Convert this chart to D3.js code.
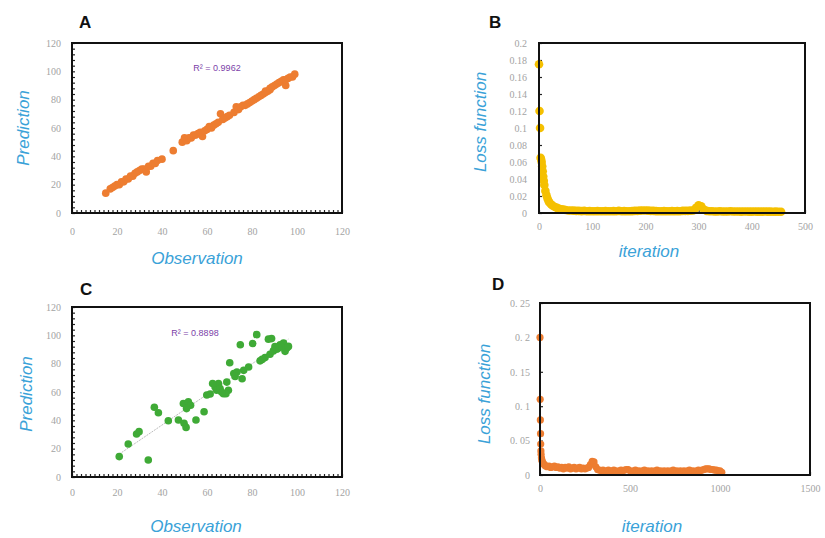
<!DOCTYPE html>
<html>
<head>
<meta charset="utf-8">
<script src="https://cdn.jsdelivr.net/npm/d3@7"></script>
<style>
  body { margin: 0; background: #fff; }
  svg { display: block; }
</style>
</head>
<body>
<svg id="chart" width="825" height="538"></svg>
<script>
// ---- data ----
var aObs  = [15,17,18,19,20,21,22,23,24,25,26,27,28,29,30,31,32,33,34,35,36,37,38,40,45,49,50,51,52,53,54,55,56,57,58,59,60,61,62,63,64,65,66,67,68,69,70,72,73,74,75,76,77,78,79,80,81,82,83,84,85,86,86,87,88,88,89,90,91,92,93,94,95,95,96,97,98,99];
var aPred = [14,17,18,19,20,20,22,22,24,24,26,26,28,29,30,31,31,29,33,33,35,35,37,38,44,50,53,51,53,53,55,55,56,57,54,58,59,61,60,62,63,64,70,66,67,68,69,71,75,73,75,76,76,77,78,79,80,81,82,83,84,86,85,86,87,88,89,90,91,92,93,94,90,94,95,96,96,98];

var cObs  = [21,25,28.7,29.8,33.9,36.6,38.4,42.8,47.3,49.8,50.7,49.5,51.7,52.7,50.9,55.1,58.7,59.9,61.4,63.6,65.1,64.3,65.8,67.3,68.8,69.5,68.4,70.1,71.9,73.3,75.6,76.3,78.5,74.8,80.3,82.1,83.6,85.8,88,89.5,91,87.3,88.7,92.5,94,95.5,94.7,93.2,96.2,91.8,62.5,66.5,72.5,84.5,90.2];
var cPred = [14.4,23.3,30.4,32,12,49.2,45.4,39.7,40.2,37.9,35,51.9,53,50.6,48.3,40.2,46.1,57.9,58.6,63.5,65.9,61.2,62.4,58.8,67,61.2,58.8,80.6,73,74.1,69.4,75.3,77.6,93.4,94.2,100.5,82,84.3,86.7,89,90.2,97.3,97.7,93.4,94.6,91,88.7,91.8,92.2,91,66,60,71,83,92];

var bIter = [0,1,2,3,4,5,6,7,8,9,10,12,14,16,18,20,23,26,30,34,38,42,46,50,55,60,65,70,75,80,85,90,95,100,105,110,115,120,125,130,135,140,145,150,155,160,165,170,175,180,185,190,195,200,205,210,215,220,225,230,235,240,245,250,255,260,265,270,275,280,285,290,295,300,305,310,315,320,325,330,335,340,345,350,355,360,365,370,375,380,385,390,395,400,405,410,415,420,425,430,435,440,445,450,455];
var bLoss = [0.175,0.12,0.1,0.065,0.063,0.06,0.055,0.049,0.043,0.038,0.033,0.026,0.021,0.017,0.014,0.012,0.010,0.0085,0.007,0.006,0.005,0.0045,0.004,0.0035,0.003,0.003,0.0028,0.0025,0.0025,0.0022,0.0025,0.002,0.0022,0.002,0.002,0.0022,0.002,0.002,0.0022,0.002,0.002,0.0022,0.002,0.0025,0.002,0.0022,0.002,0.002,0.0022,0.0025,0.0025,0.0028,0.003,0.003,0.0028,0.0025,0.0025,0.0022,0.002,0.002,0.0022,0.002,0.002,0.0022,0.002,0.0022,0.002,0.0025,0.0025,0.0025,0.0028,0.003,0.006,0.009,0.008,0.004,0.0025,0.002,0.002,0.0018,0.0018,0.002,0.0018,0.0018,0.0018,0.002,0.0018,0.0018,0.0018,0.0016,0.0018,0.0018,0.0016,0.0016,0.0018,0.0016,0.0016,0.0016,0.0018,0.0016,0.0016,0.0015,0.0016,0.0015,0.0015];

var dIter = [0,1,2,3,4,5,6,8,10,12,15,20,25,30,40,50,60,70,80,90,100,110,120,130,140,150,160,170,180,190,200,210,220,230,240,250,260,270,280,290,300,310,320,330,340,350,360,370,380,390,400,410,420,430,440,450,460,470,480,490,500,510,520,530,540,550,560,570,580,590,600,610,620,630,640,650,660,670,680,690,700,710,720,730,740,750,760,770,780,790,800,810,820,830,840,850,860,870,880,890,900,910,920,930,940,950,960,970,980,990,1000,1010];
var dLoss = [0.2,0.11,0.08,0.06,0.045,0.035,0.03,0.025,0.022,0.02,0.018,0.016,0.015,0.013,0.012,0.013,0.011,0.012,0.013,0.011,0.012,0.01,0.011,0.009,0.011,0.01,0.012,0.009,0.01,0.011,0.009,0.01,0.011,0.009,0.01,0.009,0.01,0.011,0.015,0.02,0.019,0.012,0.008,0.007,0.006,0.007,0.005,0.006,0.007,0.005,0.006,0.007,0.006,0.005,0.006,0.007,0.006,0.007,0.008,0.008,0.006,0.005,0.006,0.007,0.005,0.006,0.005,0.006,0.007,0.005,0.006,0.005,0.006,0.005,0.006,0.007,0.005,0.006,0.005,0.006,0.005,0.006,0.005,0.006,0.007,0.005,0.006,0.005,0.006,0.005,0.006,0.005,0.006,0.007,0.005,0.006,0.005,0.006,0.007,0.006,0.007,0.008,0.009,0.009,0.009,0.008,0.008,0.007,0.007,0.006,0.006,0.004];

// tick labels
var scatterTicks = [0,20,40,60,80,100,120];
var bYTicks = [0,0.02,0.04,0.06,0.08,0.1,0.12,0.14,0.16,0.18,0.2];
var bXTicks = [0,100,200,300,400,500];
var dYTicks = [0,0.05,0.1,0.15,0.2,0.25];
var dYLabels = ["0","0. 05","0. 1","0. 15","0. 2","0. 25"];
var dXTicks = [0,500,1000,1500];

var svg = d3.select("#chart");
var titleBlue = "#3aa2d8";
var tickGrey = "#a3a3a3";

function drawPanel(cfg) {
  var g = svg.append("g");
  var x = d3.scaleLinear().domain(cfg.xDomain).range([cfg.left, cfg.right]);
  var y = d3.scaleLinear().domain(cfg.yDomain).range([cfg.bottom, cfg.top]);

  // small inner ticks along left and bottom
  g.append("g")
      .attr("transform", "translate(" + cfg.left + ",0)")
      .call(d3.axisLeft(y).tickValues(cfg.yMinor).tickSize(-3).tickFormat(""))
      .call(a => a.select(".domain").remove())
      .selectAll("line").attr("stroke", "#222").attr("stroke-width", 1.2);
  g.append("g")
      .attr("transform", "translate(0," + cfg.bottom + ")")
      .call(d3.axisBottom(x).tickValues(cfg.xMinor).tickSize(-3).tickFormat(""))
      .call(a => a.select(".domain").remove())
      .selectAll("line").attr("stroke", "#222").attr("stroke-width", 1.2);

  // tick labels
  g.append("g")
      .attr("transform", "translate(" + cfg.left + ",0)")
      .call(d3.axisLeft(y).tickValues(cfg.yTicks).tickSize(0).tickPadding(cfg.yPad)
              .tickFormat((d, i) => cfg.yLabels ? cfg.yLabels[i] : String(d)))
      .call(a => a.select(".domain").remove())
      .selectAll("text")
        .attr("fill", tickGrey)
        .style("font-family", "'Liberation Serif', serif")
        .style("font-size", "10px");
  g.append("g")
      .attr("transform", "translate(0," + cfg.bottom + ")")
      .call(d3.axisBottom(x).tickValues(cfg.xTicks).tickSize(0).tickPadding(cfg.xPad)
              .tickFormat(d => String(d)))
      .call(a => a.select(".domain").remove())
      .selectAll("text")
        .attr("fill", tickGrey)
        .style("font-family", "'Liberation Serif', serif")
        .style("font-size", "10px");

  if (cfg.trend) {
    var mx = d3.mean(cfg.xs), my = d3.mean(cfg.ys);
    var slope = d3.sum(cfg.xs, (v, i) => (v - mx) * (cfg.ys[i] - my)) /
                d3.sum(cfg.xs, v => (v - mx) * (v - mx));
    var x0 = d3.min(cfg.xs), x1 = d3.max(cfg.xs);
    g.append("line")
        .attr("x1", x(x0)).attr("y1", y(my + slope * (x0 - mx)))
        .attr("x2", x(x1)).attr("y2", y(my + slope * (x1 - mx)))
        .attr("stroke", "#bdbdbd")
        .attr("stroke-width", 1)
        .attr("stroke-dasharray", "2,1");
  }

  // points
  g.append("g")
    .selectAll("circle")
    .data(cfg.xs.map((v, i) => [v, cfg.ys[i]]))
    .enter()
    .append("circle")
      .attr("cx", d => x(d[0]))
      .attr("cy", d => y(d[1]))
      .attr("r", cfg.r)
      .attr("fill", cfg.color);

  // frame
  g.append("rect")
      .attr("x", cfg.left).attr("y", cfg.top)
      .attr("width", cfg.right - cfg.left)
      .attr("height", cfg.bottom - cfg.top)
      .attr("fill", "none")
      .attr("stroke", "#111")
      .attr("stroke-width", 2);

  if (cfg.r2) {
    g.append("text")
        .attr("x", cfg.r2.x).attr("y", cfg.r2.y)
        .attr("text-anchor", "middle")
        .attr("fill", "#7b3fa8")
        .style("font-family", "'Liberation Sans', Arial, sans-serif")
        .style("font-size", "9px")
        .text(cfg.r2.text);
  }

  // panel letter
  g.append("text")
      .attr("x", cfg.letterX).attr("y", cfg.letterY)
      .style("font-family", "'Liberation Sans', Arial, sans-serif")
      .style("font-weight", "bold")
      .style("font-size", "17px")
      .attr("fill", "#111")
      .text(cfg.letter);

  // axis titles
  g.append("text")
      .attr("x", cfg.xTitle.x).attr("y", cfg.xTitle.y)
      .attr("text-anchor", "middle")
      .attr("fill", titleBlue)
      .style("font-family", "'Liberation Sans', Arial, sans-serif")
      .style("font-style", "italic")
      .style("font-size", "17px")
      .text(cfg.xTitle.text);
  g.append("text")
      .attr("transform", "translate(" + cfg.yTitle.x + "," + cfg.yTitle.y + ") rotate(-90)")
      .attr("text-anchor", "middle")
      .attr("fill", titleBlue)
      .style("font-family", "'Liberation Sans', Arial, sans-serif")
      .style("font-style", "italic")
      .style("font-size", "17px")
      .text(cfg.yTitle.text);
}

drawPanel({
  letter: "A", letterX: 79, letterY: 28,
  left: 72, right: 342, top: 43, bottom: 213,
  xDomain: [0, 120], yDomain: [0, 120],
  xTicks: scatterTicks, yTicks: scatterTicks,
  xMinor: d3.range(0, 121, 2), yMinor: d3.range(0, 121, 4),
  xPad: 15, yPad: 11,
  xs: aObs, ys: aPred, r: 3.8, color: "#ed7d31",
  r2: { x: 217, y: 71, text: "R² = 0.9962" },
  xTitle: { x: 197, y: 264, text: "Observation" },
  yTitle: { x: 29, y: 128, text: "Prediction" }
});

drawPanel({
  letter: "B", letterX: 489, letterY: 28,
  left: 539, right: 805, top: 43, bottom: 213,
  xDomain: [0, 500], yDomain: [0, 0.2],
  xTicks: bXTicks, yTicks: bYTicks,
  xMinor: bXTicks, yMinor: bYTicks,
  xPad: 10, yPad: 12,
  xs: bIter, ys: bLoss, r: 4.3, color: "#f5c000",
  xTitle: { x: 649, y: 257, text: "iteration" },
  yTitle: { x: 486, y: 122, text: "Loss function" }
});

drawPanel({
  letter: "C", letterX: 80, letterY: 295,
  left: 72, right: 342, top: 307, bottom: 477,
  xDomain: [0, 120], yDomain: [0, 120],
  xTicks: scatterTicks, yTicks: scatterTicks,
  xMinor: d3.range(0, 121, 2), yMinor: d3.range(0, 121, 4),
  xPad: 12, yPad: 11,
  xs: cObs, ys: cPred, r: 3.8, color: "#3faa36", trend: true,
  r2: { x: 195, y: 336, text: "R² = 0.8898" },
  xTitle: { x: 196, y: 532, text: "Observation" },
  yTitle: { x: 32, y: 394, text: "Prediction" }
});

drawPanel({
  letter: "D", letterX: 492, letterY: 290,
  left: 540, right: 810, top: 303, bottom: 475,
  xDomain: [0, 1500], yDomain: [0, 0.25],
  xTicks: dXTicks, yTicks: dYTicks, yLabels: dYLabels,
  xMinor: dXTicks, yMinor: dYTicks,
  xPad: 10, yPad: 10,
  xs: dIter, ys: dLoss, r: 3.6, color: "#ed7d31",
  xTitle: { x: 652, y: 532, text: "iteration" },
  yTitle: { x: 490, y: 394, text: "Loss function" }
});
</script>
</body>
</html>
